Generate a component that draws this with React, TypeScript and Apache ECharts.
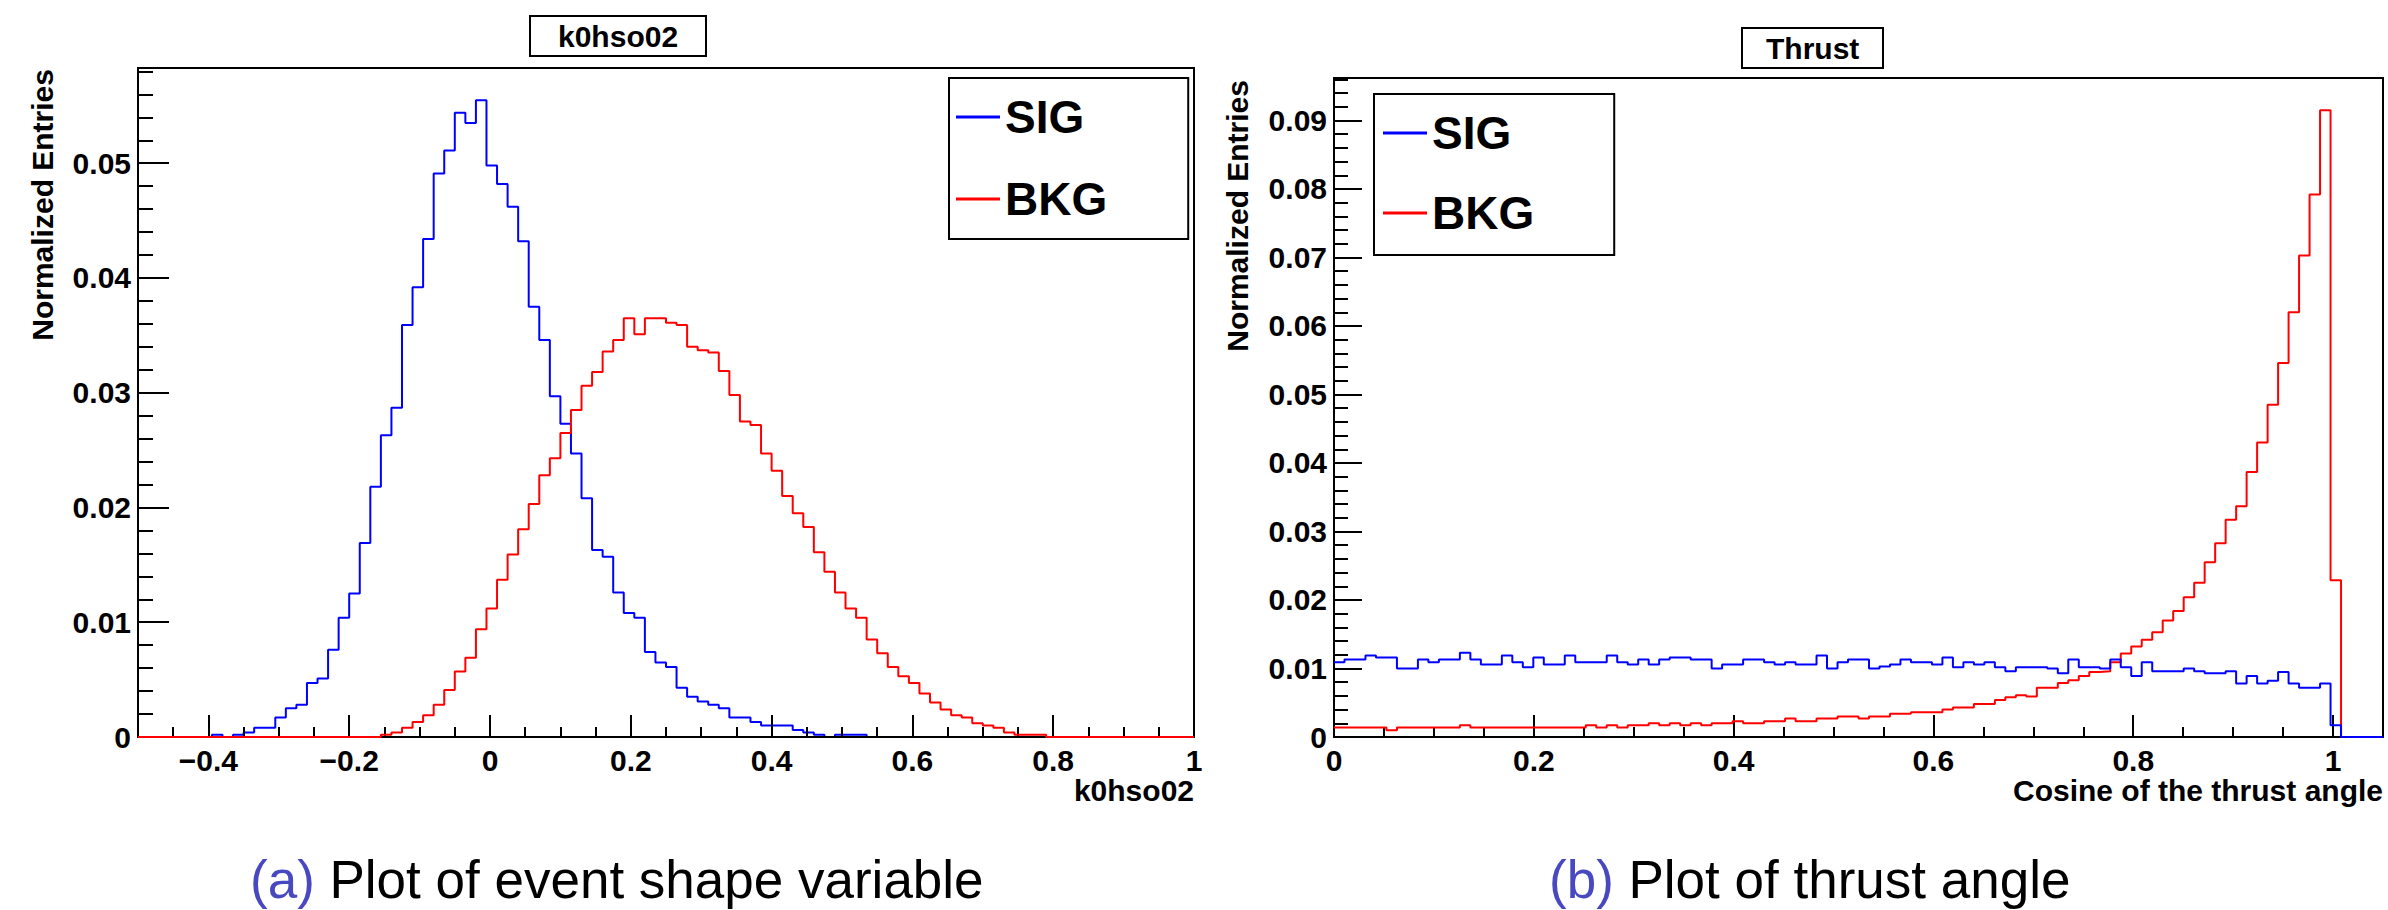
import React, { useEffect, useRef } from "react";
import * as echarts from "echarts";

const FONT = "'Liberation Sans', Arial, Helvetica, sans-serif";

// ---- histogram binning (ROOT style) ----
const K0_BIN_MIN = -0.5;
const K0_BIN_WIDTH = 0.015;
const THRUST_BIN_MIN = 0;
const THRUST_BIN_WIDTH = 0.0105;

// ---- (a) k0hso02 : 100 bins over [-0.5, 1] ----
const k0hso02Sig = [
  0, 0, 0, 0, 0, 0, 0, 0.0002, 0, 0.0002,
  0.0004, 0.0008, 0.0008, 0.0017, 0.0025, 0.0028, 0.0047, 0.0051, 0.0076, 0.0104,
  0.0125, 0.0169, 0.0218, 0.0263, 0.0287, 0.0359, 0.0392, 0.0434, 0.0491, 0.0511,
  0.0544, 0.0535, 0.0555, 0.0498, 0.0482, 0.0462, 0.0432, 0.0375, 0.0346, 0.0297,
  0.0273, 0.0247, 0.0208, 0.0163, 0.0157, 0.0126, 0.0108, 0.0104, 0.0074, 0.0065,
  0.0061, 0.0043, 0.0035, 0.0031, 0.0028, 0.0025, 0.0017, 0.0017, 0.0013, 0.001,
  0.001, 0.001, 0.0006, 0.0004, 0.0002, 0, 0.0002, 0.0002, 0.0002, 0,
  0, 0, 0, 0, 0, 0, 0, 0, 0, 0,
  0, 0, 0, 0, 0, 0, 0, 0, 0, 0,
  0, 0, 0, 0, 0, 0, 0, 0, 0, 0,
];
const k0hso02Bkg = [
  0, 0, 0, 0, 0, 0, 0, 0, 0, 0,
  0, 0, 0, 0, 0, 0, 0, 0, 0, 0,
  0, 0, 0, 0.0002, 0.0004, 0.0008, 0.0013, 0.0019, 0.0028, 0.0041,
  0.0057, 0.0069, 0.0094, 0.0112, 0.0137, 0.0159, 0.0181, 0.0203, 0.0228, 0.0243,
  0.0265, 0.0285, 0.0306, 0.0318, 0.0336, 0.0346, 0.0365, 0.0351, 0.0365, 0.0365,
  0.0361, 0.0359, 0.034, 0.0337, 0.0335, 0.0319, 0.0298, 0.0275, 0.0272, 0.0247,
  0.0232, 0.021, 0.0195, 0.0183, 0.0161, 0.0144, 0.0126, 0.0112, 0.0104, 0.0085,
  0.0073, 0.0061, 0.0053, 0.0047, 0.0038, 0.003, 0.0024, 0.0019, 0.0017, 0.0012,
  0.001, 0.0008, 0.0004, 0.0002, 0.0002, 0.0002, 0, 0, 0, 0,
  0, 0, 0, 0, 0, 0, 0, 0, 0, 0,
];

// ---- (b) Thrust : 100 bins over [0, 1.05] ----
const thrustSig = [
  0.0109, 0.0113, 0.0113, 0.0119, 0.0116, 0.0116, 0.01, 0.01, 0.0113, 0.0109,
  0.0113, 0.0113, 0.0123, 0.0113, 0.0106, 0.0106, 0.0119, 0.0109, 0.0102, 0.0116,
  0.0106, 0.0106, 0.0119, 0.0109, 0.0109, 0.0109, 0.0119, 0.0109, 0.0106, 0.0113,
  0.0106, 0.0113, 0.0116, 0.0116, 0.0113, 0.0113, 0.01, 0.0106, 0.0106, 0.0113,
  0.0113, 0.0109, 0.0106, 0.0109, 0.0106, 0.0106, 0.0119, 0.01, 0.0109, 0.0113,
  0.0113, 0.01, 0.0103, 0.0106, 0.0113, 0.0109, 0.0109, 0.0106, 0.0116, 0.0102,
  0.0109, 0.0106, 0.0109, 0.0102, 0.0096, 0.0102, 0.0102, 0.0102, 0.01, 0.0093,
  0.0113, 0.0102, 0.0102, 0.01, 0.0113, 0.0102, 0.0089, 0.0109, 0.0096, 0.0096,
  0.0096, 0.01, 0.0096, 0.0093, 0.0093, 0.0096, 0.0078, 0.0089, 0.0078, 0.0082,
  0.0095, 0.0078, 0.0072, 0.0072, 0.0078, 0.0017, 0, 0, 0, 0,
];
const thrustBkg = [
  0.0014, 0.0014, 0.0014, 0.0014, 0.0014, 0.001, 0.0014, 0.0014, 0.0014, 0.0014,
  0.0014, 0.0014, 0.0017, 0.0014, 0.0014, 0.0014, 0.0014, 0.0014, 0.0014, 0.0014,
  0.0014, 0.0014, 0.0014, 0.0014, 0.0017, 0.0014, 0.0017, 0.0014, 0.0017, 0.0017,
  0.002, 0.0017, 0.002, 0.0017, 0.002, 0.0017, 0.002, 0.002, 0.0023, 0.002,
  0.002, 0.0023, 0.0023, 0.0027, 0.0023, 0.0023, 0.0027, 0.0027, 0.003, 0.003,
  0.0027, 0.003, 0.003, 0.0034, 0.0034, 0.0036, 0.0036, 0.0036, 0.004, 0.0043,
  0.0043, 0.0048, 0.0048, 0.0054, 0.0058, 0.0061, 0.0059, 0.0072, 0.0072, 0.0079,
  0.0083, 0.0089, 0.0095, 0.0096, 0.0109, 0.0122, 0.0132, 0.0142, 0.0153, 0.017,
  0.0184, 0.0204, 0.0225, 0.0255, 0.0283, 0.0317, 0.0337, 0.0387, 0.043, 0.0485,
  0.0546, 0.062, 0.0703, 0.0792, 0.0915, 0.0229, 0, 0, 0, 0,
];

const k0MajorTicks = [-0.4, -0.2, 0, 0.2, 0.4, 0.6, 0.8, 1];
const seriesNames = ["SIG", "BKG"];
const SIG_COLOR = "#0000ff";
const BKG_COLOR = "#ff0000";

function toSteps(values: number[], lo: number, w: number) {
  const pts = values.map((v, i) => [+(lo + i * w).toFixed(6), v]);
  pts.push([+(lo + values.length * w).toFixed(6), values[values.length - 1]]);
  return pts;
}

const fmtX = (v: number) => {
  if (Math.abs(v * 5 - Math.round(v * 5)) > 1e-6) return "";
  const r = Math.round(v * 10) / 10;
  return r === 0 ? "0" : String(r).replace("-", "\u2212");
};
const fmtY = (v: number) => {
  if (Math.abs(v * 100 - Math.round(v * 100)) > 1e-6) return "";
  const r = Math.round(v * 100) / 100;
  return r === 0 ? "0" : String(r);
};

const black = { color: "#000", width: 2 };
const boldText = { fontFamily: FONT, fontWeight: "bold" as const, color: "#000", fontSize: 30 };

export default function App() {
  const ref = useRef<HTMLDivElement>(null);
  useEffect(() => {
    if (!ref.current) return;
    const chart = echarts.init(ref.current, null, { renderer: "svg" });
    const legendCommon = {
      orient: "vertical",
      data: seriesNames,
      borderColor: "#000",
      borderWidth: 2,
      itemWidth: 44,
      itemHeight: 3,
      icon: "rect",
      selectedMode: false,
      textStyle: { ...boldText, fontSize: 46 },
    };
    const captionStyle = {
      fontFamily: FONT,
      fontWeight: "normal",
      fontSize: 53,
      color: "#000",
      rich: { p: { fontFamily: FONT, fontSize: 53, color: "#4848c0" } },
    };
    const option: any = {
      animation: false,
      backgroundColor: "#fff",
      textStyle: { fontFamily: FONT },
      title: [
        {
          text: "k0hso02",
          left: 530,
          top: 16,
          borderColor: "#000",
          borderWidth: 2,
          padding: [5, 28, 5, 28],
          textStyle: boldText,
        },
        {
          text: "Thrust",
          left: 1742,
          top: 28,
          borderColor: "#000",
          borderWidth: 2,
          padding: [5, 24, 5, 24],
          textStyle: boldText,
        },
        { text: "{p|(a)} Plot of event shape variable", left: 250, top: 853, padding: 0, textStyle: captionStyle },
        { text: "{p|(b)} Plot of thrust angle", left: 1549, top: 853, padding: 0, textStyle: captionStyle },
      ],
      legend: [
        { ...legendCommon, left: 949, top: 78, padding: [16, 81, 17, 7], itemGap: 36 },
        { ...legendCommon, left: 1374, top: 94, padding: [16, 80, 19, 9], itemGap: 34 },
      ],
      grid: [
        {
          left: 138, top: 68, width: 1056, height: 669,
          show: true, borderColor: "#000", borderWidth: 2,
          containLabel: false, outerBoundsMode: "none",
        },
        {
          left: 1334, top: 78, width: 1049, height: 659,
          show: true, borderColor: "#000", borderWidth: 2,
          containLabel: false, outerBoundsMode: "none",
        },
      ],
      xAxis: [
        {
          type: "value", gridIndex: 0, position: "bottom", z: 3,
          min: -0.5, max: 1, interval: 0.05,
          axisLine: { show: true, onZero: false, lineStyle: black },
          axisTick: { show: true, inside: true, length: 10, lineStyle: black },
          axisLabel: { ...boldText, formatter: fmtX, margin: 8 },
          splitLine: { show: false },
          name: "k0hso02", nameLocation: "end", nameGap: 0, nameMoveOverlap: false,
          nameTextStyle: { ...boldText, align: "right", verticalAlign: "top", padding: [38, 0, 0, 0] },
        },
        {
          type: "value", gridIndex: 0, position: "bottom", z: 3,
          min: -0.5, max: 1,
          axisLine: { show: false, onZero: false },
          axisTick: { show: true, inside: true, length: 22, lineStyle: black, customValues: k0MajorTicks },
          axisLabel: { show: false },
          splitLine: { show: false },
        },
        {
          type: "value", gridIndex: 1, position: "bottom",
          min: 0, max: 1.05, interval: 0.2,
          axisLine: { show: true, onZero: false, lineStyle: black },
          axisTick: { show: true, inside: true, length: 22, lineStyle: black },
          minorTick: { show: true, splitNumber: 4, length: 10, lineStyle: black },
          axisLabel: { ...boldText, formatter: fmtX, margin: 8, showMaxLabel: false },
          splitLine: { show: false },
          minorSplitLine: { show: false },
          name: "Cosine of the thrust angle", nameLocation: "end", nameGap: 0, nameMoveOverlap: false,
          nameTextStyle: { ...boldText, align: "right", verticalAlign: "top", padding: [38, 0, 0, 0] },
        },
      ],
      yAxis: [
        {
          type: "value", gridIndex: 0, position: "left",
          min: 0, max: 0.0583, interval: 0.01,
          axisLine: { show: true, onZero: false, lineStyle: black },
          axisTick: { show: true, inside: true, length: 31, lineStyle: black },
          minorTick: { show: true, splitNumber: 5, length: 15, lineStyle: black },
          axisLabel: { ...boldText, formatter: fmtY, margin: 7, showMaxLabel: false },
          splitLine: { show: false },
          minorSplitLine: { show: false },
          name: "Normalized Entries", nameLocation: "end", nameGap: -1, nameRotate: 90, nameMoveOverlap: false,
          nameTextStyle: { ...boldText, align: "right", verticalAlign: "bottom", padding: [0, 0, 81, 0] },
        },
        {
          type: "value", gridIndex: 1, position: "left",
          min: 0, max: 0.0962, interval: 0.01,
          axisLine: { show: true, onZero: false, lineStyle: black },
          axisTick: { show: true, inside: true, length: 28, lineStyle: black },
          minorTick: { show: true, splitNumber: 5, length: 14, lineStyle: black },
          axisLabel: { ...boldText, formatter: fmtY, margin: 7, showMaxLabel: false },
          splitLine: { show: false },
          minorSplitLine: { show: false },
          name: "Normalized Entries", nameLocation: "end", nameGap: -2, nameRotate: 90, nameMoveOverlap: false,
          nameTextStyle: { ...boldText, align: "right", verticalAlign: "bottom", padding: [0, 0, 82, 0] },
        },
      ],
      series: [
        {
          name: "SIG", type: "line", xAxisIndex: 0, yAxisIndex: 0, step: "end",
          data: toSteps(k0hso02Sig, K0_BIN_MIN, K0_BIN_WIDTH),
          symbol: "none", silent: true, z: 2,
          lineStyle: { color: SIG_COLOR, width: 2 }, itemStyle: { color: SIG_COLOR },
        },
        {
          name: "BKG", type: "line", xAxisIndex: 0, yAxisIndex: 0, step: "end",
          data: toSteps(k0hso02Bkg, K0_BIN_MIN, K0_BIN_WIDTH),
          symbol: "none", silent: true, z: 4,
          lineStyle: { color: BKG_COLOR, width: 2 }, itemStyle: { color: BKG_COLOR },
        },
        {
          name: "SIG", type: "line", xAxisIndex: 2, yAxisIndex: 1, step: "end",
          data: toSteps(thrustSig, THRUST_BIN_MIN, THRUST_BIN_WIDTH),
          symbol: "none", silent: true, z: 4,
          lineStyle: { color: SIG_COLOR, width: 2 }, itemStyle: { color: SIG_COLOR },
        },
        {
          name: "BKG", type: "line", xAxisIndex: 2, yAxisIndex: 1, step: "end",
          data: toSteps(thrustBkg, THRUST_BIN_MIN, THRUST_BIN_WIDTH),
          symbol: "none", silent: true, z: 3,
          lineStyle: { color: BKG_COLOR, width: 2 }, itemStyle: { color: BKG_COLOR },
        },
      ],
    };
    chart.setOption(option);
    return () => chart.dispose();
  }, []);
  return (
    <div
      ref={ref}
      style={{ position: "fixed", left: 0, top: 0, width: 2388, height: 910, background: "#fff" }}
    />
  );
}
